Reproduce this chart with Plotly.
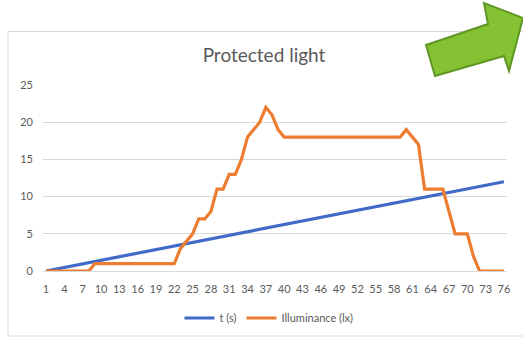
import plotly.graph_objects as go

# Sample index (x categories)
samples = list(range(1, 77))
tick_labels = list(range(1, 77, 3))

# Elapsed time (s)
time_s = [0.00, 0.16, 0.32, 0.48, 0.64, 0.80, 0.96, 1.12, 1.28, 1.44,
          1.60, 1.76, 1.92, 2.08, 2.24, 2.40, 2.56, 2.72, 2.88, 3.04,
          3.20, 3.36, 3.52, 3.68, 3.84, 4.00, 4.16, 4.32, 4.48, 4.64,
          4.80, 4.96, 5.12, 5.28, 5.44, 5.60, 5.76, 5.92, 6.08, 6.24,
          6.40, 6.56, 6.72, 6.88, 7.04, 7.20, 7.36, 7.52, 7.68, 7.84,
          8.00, 8.16, 8.32, 8.48, 8.64, 8.80, 8.96, 9.12, 9.28, 9.44,
          9.60, 9.76, 9.92, 10.08, 10.24, 10.40, 10.56, 10.72, 10.88, 11.04,
          11.20, 11.36, 11.52, 11.68, 11.84, 12.00]

# Illuminance readings (lx)
illuminance = [0, 0, 0, 0, 0, 0, 0, 0, 1, 1,
               1, 1, 1, 1, 1, 1, 1, 1, 1, 1,
               1, 1, 3, 4, 5, 7, 7, 8, 11, 11,
               13, 13, 15, 18, 19, 20, 22, 21, 19, 18,
               18, 18, 18, 18, 18, 18, 18, 18, 18, 18,
               18, 18, 18, 18, 18, 18, 18, 18, 18, 19,
               18, 17, 11, 11, 11, 11, 8, 5, 5, 5,
               2, 0, 0, 0, 0, 0]

W, H = 523, 337
ML, MR, MT, MB = 43, 16, 85, 66
PW, PH = W - ML - MR, H - MT - MB

FONT = "Lato, Carlito, Calibri, sans-serif"
GREY_TEXT = "#595959"
GRID = "#D9D9D9"


def px_x(x):
    return (x - ML) / PW


def px_y(y):
    return (H - MB - y) / PH


fig = go.Figure()
fig.add_trace(go.Scatter(x=samples, y=time_s, name="t (s)", mode="lines",
                         line=dict(color="#4169C8", width=3.2)))
fig.add_trace(go.Scatter(x=samples, y=illuminance, name="Illuminance (lx)",
                         mode="lines", line=dict(color="#ED7D31", width=3.2)))

# chart-area frame
fig.add_shape(type="rect", xref="paper", yref="paper",
              x0=px_x(8), x1=px_x(540), y0=px_y(336), y1=px_y(31.5),
              line=dict(color=GRID, width=1), layer="below")

# green arrow callout
arrow_pts = [(426, 45), (488, 24), (484, 3), (523, 18),
             (509, 71), (504, 56), (435, 76)]
path = "M " + " L ".join(f"{px_x(x):.4f},{px_y(y):.4f}" for x, y in arrow_pts) + " Z"
fig.add_shape(type="path", xref="paper", yref="paper", path=path,
              fillcolor="#84C234", line=dict(color="#5F9623", width=2))

fig.update_layout(
    width=W, height=H,
    margin=dict(l=ML, r=MR, t=MT, b=MB, autoexpand=False),
    paper_bgcolor="white", plot_bgcolor="white",
    font=dict(family=FONT, color=GREY_TEXT, size=11),
    title=dict(text="Protected light", x=px_x(264), xref="paper", xanchor="center",
               y=1 - 55 / H, yanchor="middle",
               font=dict(family=FONT, size=19, color=GREY_TEXT)),
    showlegend=True,
    legend=dict(orientation="h", x=px_x(269), xanchor="center",
                yref="container", y=1 - 318 / H, yanchor="middle",
                font=dict(family=FONT, size=11, color=GREY_TEXT),
                itemwidth=30, bgcolor="rgba(0,0,0,0)"),
    xaxis=dict(range=[0.5, 76.5], tickmode="array", tickvals=tick_labels,
               ticktext=[str(v) for v in tick_labels],
               showgrid=False, zeroline=False, showline=True, linecolor=GRID,
               linewidth=1, ticks="", ticklabelstandoff=8,
               tickfont=dict(family=FONT, size=11, color=GREY_TEXT)),
    yaxis=dict(range=[0, 25], tickvals=[0, 5, 10, 15, 20, 25],
               showgrid=True, gridcolor=GRID, gridwidth=1, zeroline=False,
               showline=False, ticks="", ticklabelstandoff=9,
               tickfont=dict(family=FONT, size=11, color=GREY_TEXT)),
)

fig.write_html("out.html")
